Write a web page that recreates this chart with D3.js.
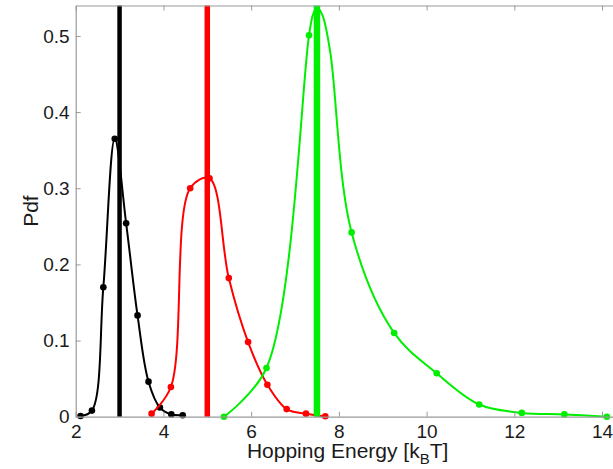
<!DOCTYPE html>
<html><head><meta charset="utf-8">
<script src="https://cdn.jsdelivr.net/npm/d3@7"></script>
<style>
body{margin:0;background:#fff}
svg{display:block}
text{font-family:"Liberation Sans",Arial,Helvetica,sans-serif}
</style>
</head><body>
<svg width="613" height="469"></svg>
<script>
// ---- data ----
const xTicks = [2, 4, 6, 8, 10, 12, 14];
const yTicks = [0, 0.1, 0.2, 0.3, 0.4, 0.5];

const blackX = [2.11, 2.37, 2.63, 2.89, 3.15, 3.41, 3.66, 3.92, 4.18, 4.44];
const blackY = [0.001, 0.008, 0.170, 0.365, 0.254, 0.133, 0.046, 0.012, 0.003, 0.002];

const redX = [3.73, 4.17, 4.61, 5.05, 5.49, 5.93, 6.37, 6.81, 7.25, 7.69];
const redY = [0.004, 0.039, 0.300, 0.313, 0.182, 0.098, 0.042, 0.010, 0.004, 0.0005];

const greenX = [5.38, 6.35, 7.32, 8.29, 9.26, 10.23, 11.20, 12.17, 13.14, 14.11];
const greenY = [0.000, 0.064, 0.501, 0.242, 0.110, 0.057, 0.016, 0.005, 0.003, 0.000];
// green curve outline near its peak (no markers there)
const greenPeakX = [7.41, 7.50, 7.62, 7.80];
const greenPeakY = [0.528, 0.537, 0.528, 0.480];

const meanValues = [3, 5, 7.5];
const seriesColors = ["#000000", "#ff0000", "#00ee00"];
const meanWidths = [4.5, 5.5, 6.5];

// ---- chart ----
const svg = d3.select("svg");
const x = d3.scaleLinear().domain([2, 14.4]).range([75.7, 619.6]);
const y = d3.scaleLinear().domain([0, 0.54]).range([416.7, 5.5]);
const axisColor = "#9a9a9a";
const tickFont = 19;

const zip = (xs, ys) => xs.map((v, j) => [v, ys[j]]);
const series = [
  {pts: zip(blackX, blackY), extra: []},
  {pts: zip(redX, redY), extra: []},
  {pts: zip(greenX, greenY), extra: zip(greenPeakX, greenPeakY)}
].map((s, i) => ({
  pts: s.pts,
  curve: s.pts.concat(s.extra).sort((a, b) => a[0] - b[0]),
  color: seriesColors[i],
  mean: meanValues[i],
  mw: meanWidths[i]
}));

const line = d3.line()
  .x(d => x(d[0])).y(d => y(d[1]))
  .curve(d3.curveCatmullRom.alpha(0.5));

series.forEach(s => {
  const g = svg.append("g");
  g.append("path").attr("d", line(s.curve))
    .attr("fill", "none").attr("stroke", s.color).attr("stroke-width", 2);
  g.selectAll("circle").data(s.pts).join("circle")
    .attr("cx", d => x(d[0])).attr("cy", d => y(d[1])).attr("r", 3.3)
    .attr("fill", s.color);
  g.append("line")
    .attr("x1", x(s.mean)).attr("x2", x(s.mean))
    .attr("y1", y(0.54)).attr("y2", y(0))
    .attr("stroke", s.color).attr("stroke-width", s.mw);
});

// axes
function styleAxis(g) {
  g.selectAll(".domain").attr("stroke", axisColor).attr("stroke-width", 1.2);
  g.selectAll(".tick line").attr("stroke", axisColor).attr("stroke-width", 1);
  g.selectAll(".tick text").attr("fill", "#1a1a1a")
    .style("font-size", tickFont + "px")
    .style("font-family", '"Liberation Sans",Arial,Helvetica,sans-serif');
}

svg.append("g").attr("transform", `translate(0,${y(0)})`)
  .call(d3.axisBottom(x).tickValues(xTicks).tickSizeInner(-5).tickSizeOuter(0)
    .tickPadding(8).tickFormat(d3.format("d")))
  .call(styleAxis);

svg.append("g").attr("transform", `translate(0,${y(0.54)})`)
  .call(d3.axisTop(x).tickValues(xTicks).tickSizeInner(-5).tickSizeOuter(0)
    .tickFormat(""))
  .call(styleAxis);

svg.append("g").attr("transform", `translate(${x(2)},0)`)
  .call(d3.axisLeft(y).tickValues(yTicks).tickSizeInner(-5).tickSizeOuter(0)
    .tickPadding(6).tickFormat(d => d === 0 ? "0" : d3.format(".1f")(d)))
  .call(styleAxis);

// axis titles
const xt = svg.append("text")
  .attr("x", (x(2) + x(14.4)) / 2).attr("y", 458)
  .attr("text-anchor", "middle").attr("fill", "#1a1a1a")
  .style("font-size", "21px");
xt.append("tspan").text("Hopping Energy [k");
xt.append("tspan").attr("dy", 6).style("font-size", "15px").text("B");
xt.append("tspan").attr("dy", -6).text("T]");

svg.append("text")
  .attr("transform", `translate(38,${(y(0) + y(0.54)) / 2}) rotate(-90)`)
  .attr("text-anchor", "middle").attr("fill", "#1a1a1a")
  .style("font-size", "21px").text("Pdf");
</script>
</body></html>
